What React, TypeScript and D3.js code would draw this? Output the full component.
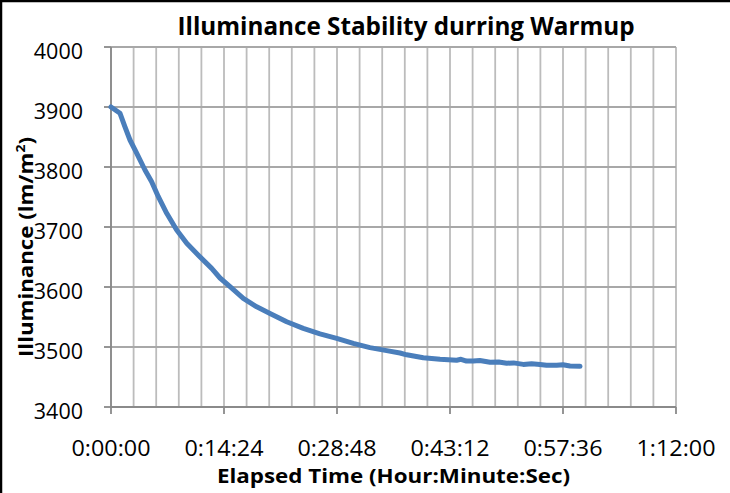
import React from "react";
import * as d3 from "d3";

// Elapsed time in minutes and illuminance (lm/m²)
const minutes = [
  0, 1.15, 1.78, 2.42, 3.27, 4.33, 5.18, 6.03, 7.1, 8.37, 9.65, 11.13, 12.83,
  13.89, 15.17, 16.86, 18.57, 20.26, 22.39, 24.5, 26.63, 28.76, 30.88, 33.0,
  35.13, 36.83, 37.68, 39.8, 41.93, 44.05, 44.6, 45.3, 46.17, 47.0, 48.3,
  49.4, 50.43, 51.3, 52.54, 53.6, 54.67, 55.5, 56.8, 57.6, 58.49, 59.77,
];
const illuminance = [
  3900, 3889.5, 3867, 3845, 3823, 3795, 3775.5, 3750.5, 3722.8, 3695, 3673,
  3653, 3631, 3615, 3600.5, 3581, 3567, 3556, 3542, 3531, 3522, 3514.5, 3506,
  3499, 3494, 3490, 3487, 3482, 3479.5, 3478, 3479.5, 3476.5, 3476.5, 3477.5,
  3474.5, 3475, 3473, 3473.5, 3471, 3472, 3471, 3469.5, 3469.5, 3470.5,
  3468.3, 3467.8,
];

const xMajorTicks = [0, 14.4, 28.8, 43.2, 57.6, 72];
const xTickLabels = ["0:00:00", "0:14:24", "0:28:48", "0:43:12", "0:57:36", "1:12:00"];
const xMinorStep = 2.88;
const yTicks = [3400, 3500, 3600, 3700, 3800, 3900, 4000];

const titleText = "Illuminance Stability durring Warmup";
const xTitleText = "Elapsed Time (Hour:Minute:Sec)";

export default function App() {
  const W = 730;
  const H = 493;
  const left = 111;
  const right = 676;
  const top = 47;
  const bottom = 407;

  const x = d3.scaleLinear().domain([0, 72]).range([left, right]);
  const y = d3.scaleLinear().domain([3400, 4000]).range([bottom, top]);

  const minorTicks = d3.range(0, 72 + 0.001, xMinorStep);
  const pts: [number, number][] = minutes.map((m, i) => [m, illuminance[i]]);
  const line = d3
    .line<[number, number]>()
    .x((d) => x(d[0]))
    .y((d) => y(d[1]));

  const font = "'Open Sans', 'Liberation Sans', sans-serif";

  return (
    <>
      <style>{`body{margin:0}`}</style>
      <svg width={W} height={H} style={{ display: "block", background: "#fff" }}>
        <rect x={0} y={0} width={W} height={H} fill="#fff" />
        {/* border top / left */}
        <line x1={0} y1={1} x2={W} y2={1} stroke="#000" strokeWidth={2.5} />
        <line x1={1} y1={0} x2={1} y2={H} stroke="#000" strokeWidth={2.5} />

        {/* vertical gridlines */}
        {minorTicks.map((t, i) => (
          <line
            key={"vg" + i}
            x1={x(t)}
            x2={x(t)}
            y1={top}
            y2={bottom}
            stroke="#bcbcbc"
            strokeWidth={1.8}
          />
        ))}
        {/* horizontal gridlines */}
        {yTicks.map((v) => (
          <line
            key={"hg" + v}
            x1={left}
            x2={right}
            y1={y(v)}
            y2={y(v)}
            stroke="#a8a8a8"
            strokeWidth={1.8}
          />
        ))}
        {/* axes */}
        <line x1={left} x2={left} y1={top} y2={bottom} stroke="#8a8a8a" strokeWidth={1.8} />
        <line x1={left} x2={right} y1={bottom} y2={bottom} stroke="#8a8a8a" strokeWidth={1.8} />
        {yTicks.map((v) => (
          <line
            key={"yt" + v}
            x1={left - 7}
            x2={left}
            y1={y(v)}
            y2={y(v)}
            stroke="#8a8a8a"
            strokeWidth={1.8}
          />
        ))}
        {xMajorTicks.map((t) => (
          <line
            key={"xt" + t}
            x1={x(t)}
            x2={x(t)}
            y1={bottom}
            y2={bottom + 7}
            stroke="#8a8a8a"
            strokeWidth={1.8}
          />
        ))}

        {/* y tick labels */}
        {yTicks.map((v) => (
          <text
            key={"yl" + v}
            x={83}
            y={y(v) + 3}
            textAnchor="end"
            dominantBaseline="central"
            fontFamily={font}
            fontSize={21.5}
            fill="#000"
          >
            {v}
          </text>
        ))}
        {/* x tick labels */}
        {xMajorTicks.map((t, i) => (
          <text
            key={"xl" + t}
            x={x(t)}
            y={456}
            textAnchor="middle"
            fontFamily={font}
            fontSize={22}
            textLength={79}
            lengthAdjust="spacingAndGlyphs"
            fill="#000"
          >
            {xTickLabels[i]}
          </text>
        ))}

        {/* data line */}
        <path
          d={line(pts) || ""}
          fill="none"
          stroke="#4a7ebb"
          strokeWidth={5}
          strokeLinejoin="round"
          strokeLinecap="round"
        />

        {/* titles */}
        <text
          x={406}
          y={35}
          textAnchor="middle"
          fontFamily={font}
          fontWeight="bold"
          fontSize={25}
          textLength={457}
          lengthAdjust="spacingAndGlyphs"
          fill="#000"
        >
          {titleText}
        </text>
        <text
          x={393.5}
          y={482.5}
          textAnchor="middle"
          fontFamily={font}
          fontWeight="bold"
          fontSize={19}
          textLength={353}
          lengthAdjust="spacingAndGlyphs"
          fill="#000"
        >
          {xTitleText}
        </text>
        <text
          transform="translate(33,247) rotate(-90)"
          textAnchor="middle"
          fontFamily={font}
          fontWeight="bold"
          fontSize={19}
          textLength={220}
          lengthAdjust="spacingAndGlyphs"
          fill="#000"
        >
          Illuminance (lm/m
          <tspan dy={-8} fontSize={12}>
            2
          </tspan>
          <tspan dy={8}>)</tspan>
        </text>
      </svg>
    </>
  );
}
